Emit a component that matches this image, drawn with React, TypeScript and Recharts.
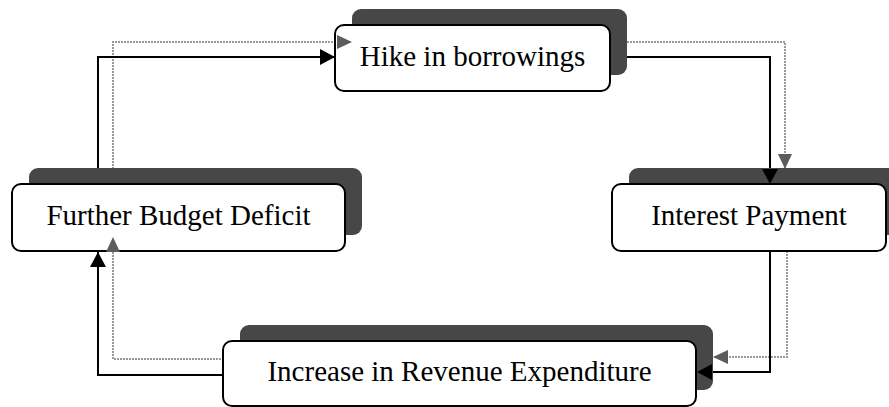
import { ComposedChart, XAxis, YAxis, Line, Scatter } from "recharts";

// boxes of the cycle (centre + size in page pixels)
const nodeLabels = [
  "Hike in borrowings",
  "Interest Payment",
  "Increase in Revenue Expenditure",
  "Further Budget Deficit",
];
const nodeX = [472.5, 749, 459.5, 178.5];
const nodeY = [58, 217.5, 373.5, 217.5];
const nodeW = [275, 274, 473, 333];
const nodeH = [66, 67, 65, 67];

// solid connectors (black)
const budgetToBorrow = [[98, 184], [98, 57], [335, 57]];
const borrowToInterest = [[610, 57], [770, 57], [770, 184]];
const interestToRevenue = [[770, 251], [770, 372], [697, 372]];
const revenueToBudget = [[223, 375], [98, 375], [98, 252]];

// dotted connectors (grey)
const budgetToBorrowGrey = [[113, 169], [113, 42], [352, 42]];
const borrowToInterestGrey = [[627, 42], [785, 42], [785, 169]];
const interestToRevenueGrey = [[787, 233], [787, 357], [713, 357]];
const revenueToBudgetGrey = [[242, 359], [113, 359], [113, 237]];

type Pt = { x: number; y: number };
const toPts = (a: number[][]): Pt[] => a.map(([x, y]) => ({ x, y }));

const nodes = nodeLabels.map((label, i) => ({
  label,
  x: nodeX[i],
  y: nodeY[i],
  w: nodeW[i],
  h: nodeH[i],
}));

const arrowDot =
  (pts: Pt[], color: string, len: number, half: number) => (props: any) => {
    const { cx, cy, index } = props;
    if (index !== pts.length - 1) return <g key={`d${index}`} />;
    const p = pts[index - 1];
    const dx = pts[index].x - p.x;
    const dy = pts[index].y - p.y;
    const d = Math.hypot(dx, dy) || 1;
    const ux = dx / d;
    const uy = dy / d;
    const bx = cx - ux * len;
    const by = cy - uy * len;
    const poly = `${cx},${cy} ${bx - uy * half},${by + ux * half} ${bx + uy * half},${by - ux * half}`;
    return <polygon key={`d${index}`} points={poly} fill={color} />;
  };

const NodeBox = (props: any) => {
  const { cx, cy, payload } = props;
  const { w, h } = payload;
  const x = cx - w / 2;
  const y = cy - h / 2;
  return (
    <g>
      <rect x={x + 17} y={y - 16} width={w} height={h} rx={9} fill="#474747" />
      <rect
        x={x}
        y={y}
        width={w}
        height={h}
        rx={9}
        fill="#fff"
        stroke="#000"
        strokeWidth={2}
      />
      <text
        x={cx}
        y={cy + 7.5}
        textAnchor="middle"
        fontFamily="'Liberation Serif', 'Times New Roman', serif"
        fontSize={29}
        fill="#000"
      >
        {payload.label}
      </text>
    </g>
  );
};

const solid = [budgetToBorrow, borrowToInterest, interestToRevenue, revenueToBudget].map(toPts);
const dotted = [
  budgetToBorrowGrey,
  borrowToInterestGrey,
  interestToRevenueGrey,
  revenueToBudgetGrey,
].map(toPts);

export default function App() {
  return (
    <div style={{ position: "absolute", left: 0, top: 0, width: 889, height: 407, background: "#fff" }}>
      <ComposedChart width={889} height={407} margin={{ top: 0, right: 0, bottom: 0, left: 0 }}>
        <XAxis type="number" dataKey="x" domain={[0, 889]} hide allowDataOverflow />
        <YAxis type="number" domain={[0, 407]} reversed hide allowDataOverflow />

        <Scatter data={nodes} dataKey="y" shape={NodeBox} isAnimationActive={false} />

        {dotted.map((pts, i) => (
          <Line
            key={`g${i}`}
            data={pts}
            dataKey="y"
            type="linear"
            stroke="#9a9a9a"
            strokeWidth={2}
            strokeDasharray="2 1"
            dot={arrowDot(pts, "#5c5c5c", 15, 7)}
            activeDot={false}
            isAnimationActive={false}
          />
        ))}

        {solid.map((pts, i) => (
          <Line
            key={`b${i}`}
            data={pts}
            dataKey="y"
            type="linear"
            stroke="#000"
            strokeWidth={2}
            dot={arrowDot(pts, "#000", 15, 8)}
            activeDot={false}
            isAnimationActive={false}
          />
        ))}
      </ComposedChart>
    </div>
  );
}
